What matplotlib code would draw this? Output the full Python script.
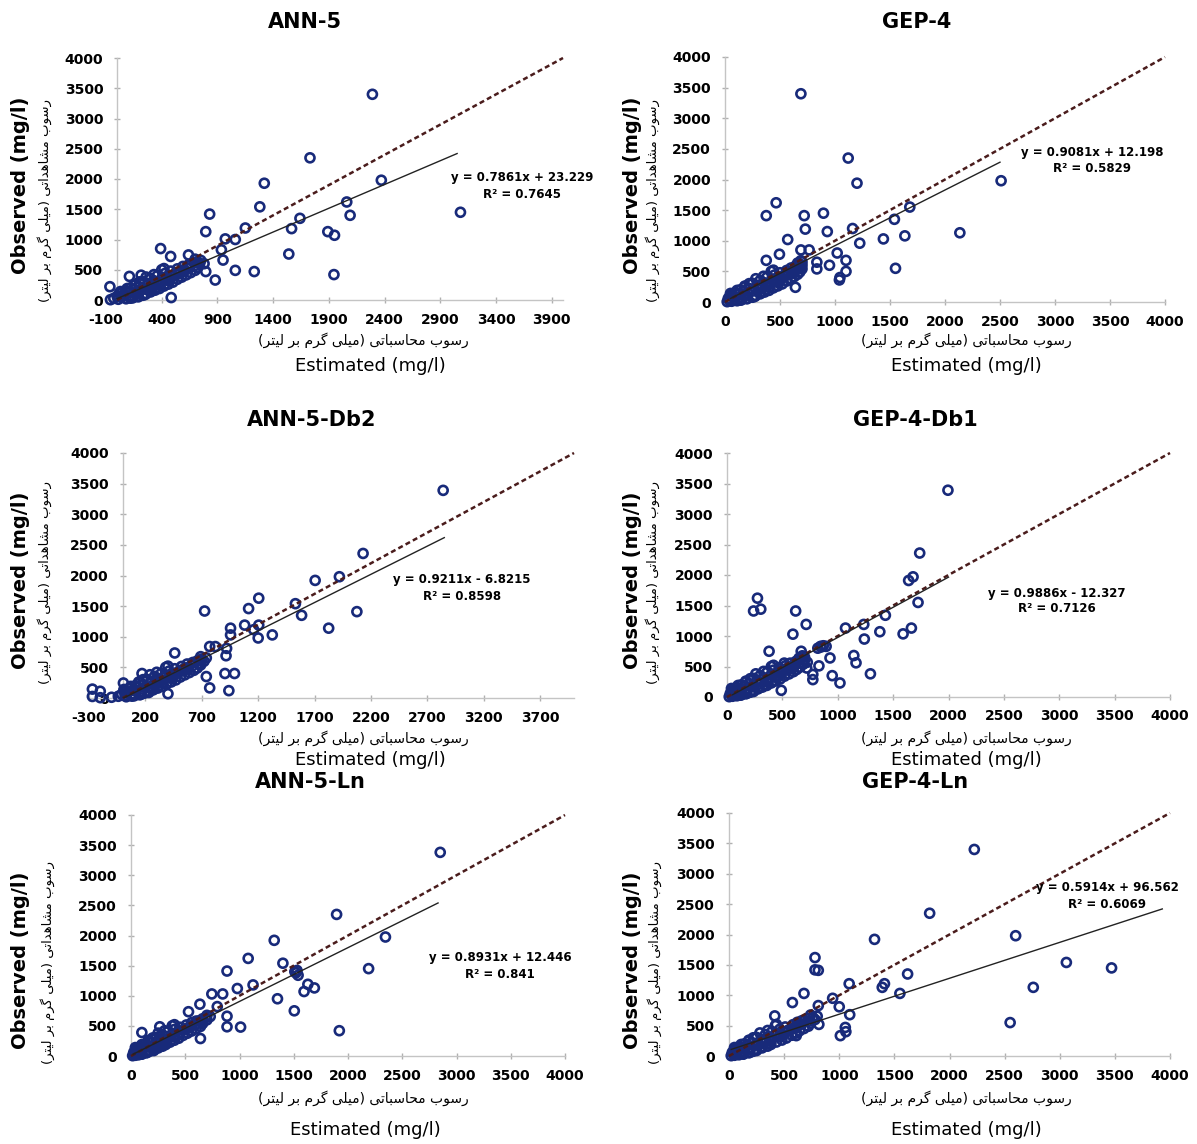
import matplotlib
matplotlib.use("Agg")
import matplotlib.pyplot as plt

plt.rcParams['axes.unicode_minus'] = False
plt.rcParams['font.family'] = ['DejaVu Sans']

W, H = 1197, 1144

# ---------------- data ----------------
TITLES = ["ANN-5", "GEP-4", "ANN-5-Db2", "GEP-4-Db1", "ANN-5-Ln", "GEP-4-Ln"]
SLOPES = [0.7861, 0.9081, 0.9211, 0.9886, 0.8931, 0.5914]
INTERCEPTS = [23.229, 12.198, -6.8215, -12.327, 12.446, 96.562]
EQ_TEXT = ["y = 0.7861x + 23.229", "y = 0.9081x + 12.198", "y = 0.9211x - 6.8215",
           "y = 0.9886x - 12.327", "y = 0.8931x + 12.446", "y = 0.5914x + 96.562"]
R2_TEXT = ["R² = 0.7645", "R² = 0.5829", "R² = 0.8598", "R² = 0.7126", "R² = 0.841", "R² = 0.6069"]
X_MIN = [-100, 0, -300, 0, 0, 0]
X_TICKS = [[-100, 400, 900, 1400, 1900, 2400, 2900, 3400, 3900],
           [0, 500, 1000, 1500, 2000, 2500, 3000, 3500, 4000],
           [-300, 200, 700, 1200, 1700, 2200, 2700, 3200, 3700],
           [0, 500, 1000, 1500, 2000, 2500, 3000, 3500, 4000],
           [0, 500, 1000, 1500, 2000, 2500, 3000, 3500, 4000],
           [0, 500, 1000, 1500, 2000, 2500, 3000, 3500, 4000]]
Y_TICKS = [0, 500, 1000, 1500, 2000, 2500, 3000, 3500, 4000]
TREND_X = [[0, 3050], [50, 2500], [-250, 2850], [50, 2000], [20, 2830], [20, 3930]]
LINE_1TO1 = [0, 4000]

OBS_CLUSTER = [5, 12, 20, 28, 35, 44, 52, 60, 70, 78,
               88, 96, 105, 115, 124, 133, 142, 152, 162, 171,
               180, 190, 200, 210, 220, 230, 240, 250, 262, 272,
               284, 295, 306, 318, 330, 342, 354, 366, 378, 390,
               402, 415, 428, 440, 452, 465, 478, 490, 502, 515,
               528, 540, 555, 570, 585, 600, 618, 636, 655, 675,
               60, 110, 150, 190, 240, 300, 350, 420, 470, 520,
               30, 90, 140, 200, 260, 320, 380, 440, 500, 580]

ANN5_CL_EST = [-60, 10, 80, -30, 140, 40, 190, 0, 120, 230,
               60, 170, 260, 20, 110, 300, 200, 80, 340, 150,
               250, 380, 120, 300, 200, 420, 330, 160, 460, 280,
               380, 500, 230, 330, 440, 540, 300, 410, 580, 480,
               360, 620, 520, 430, 660, 560, 480, 700, 600, 540,
               650, 720, 590, 700, 660, 740, 690, 720, 750, 700,
               180, 40, 290, 90, 380, 200, 480, 330, 600, 420,
               120, 250, 30, 350, 160, 460, 260, 560, 400, 640]
GEP4_CL_EST = [20, 60, 110, 40, 150, 90, 200, 30, 130, 250,
               70, 180, 280, 50, 120, 320, 210, 100, 360, 170,
               260, 400, 140, 310, 220, 440, 340, 180, 480, 290,
               400, 520, 250, 350, 460, 560, 320, 430, 600, 500,
               380, 630, 530, 450, 660, 570, 500, 680, 610, 560,
               650, 700, 600, 690, 640, 700, 680, 660, 700, 690,
               200, 60, 320, 110, 400, 220, 500, 350, 620, 440,
               140, 270, 50, 370, 180, 480, 280, 570, 420, 650]
DB2_CL_EST = [-200, -100, 30, -40, 100, 20, 150, -10, 80, 190,
              40, 150, 230, 10, 90, 270, 180, 60, 310, 130,
              230, 350, 110, 280, 180, 390, 300, 150, 430, 250,
              350, 470, 210, 310, 410, 510, 280, 390, 550, 460,
              340, 590, 490, 410, 630, 530, 460, 660, 580, 520,
              620, 690, 570, 680, 640, 720, 670, 700, 740, 690,
              160, 20, 260, 70, 350, 180, 450, 300, 580, 400,
              80, 230, 10, 320, 140, 430, 240, 530, 380, 620]
DB1_CL_EST = [20, 50, 90, 40, 130, 70, 170, 30, 110, 210,
              60, 160, 240, 50, 110, 280, 190, 90, 320, 150,
              230, 360, 130, 290, 200, 400, 310, 170, 440, 270,
              370, 480, 240, 330, 430, 520, 300, 400, 560, 470,
              360, 600, 500, 420, 630, 540, 470, 660, 580, 530,
              620, 690, 570, 680, 630, 700, 660, 650, 700, 680,
              180, 50, 290, 100, 370, 210, 470, 330, 590, 420,
              120, 240, 40, 340, 170, 450, 260, 540, 400, 620]
LN5_CL_EST = [15, 40, 70, 30, 100, 60, 140, 25, 100, 170,
              60, 150, 210, 50, 110, 250, 180, 90, 290, 150,
              210, 320, 130, 270, 190, 360, 290, 170, 400, 260,
              340, 440, 230, 320, 400, 480, 290, 380, 520, 450,
              340, 560, 480, 400, 600, 520, 450, 640, 560, 510,
              600, 660, 560, 650, 630, 700, 660, 690, 730, 700,
              150, 50, 250, 100, 330, 200, 430, 310, 540, 400,
              100, 210, 40, 300, 160, 400, 250, 500, 380, 600]
LN4_CL_EST = [20, 50, 90, 40, 130, 70, 180, 30, 120, 220,
              70, 170, 250, 50, 120, 300, 200, 100, 350, 160,
              250, 380, 140, 310, 210, 430, 340, 180, 480, 290,
              390, 520, 250, 360, 460, 570, 330, 440, 610, 510,
              390, 640, 540, 460, 680, 590, 510, 720, 630, 580,
              660, 740, 620, 720, 680, 780, 720, 760, 800, 740,
              190, 60, 300, 110, 380, 220, 490, 350, 610, 430,
              130, 250, 50, 360, 180, 470, 280, 570, 420, 660]

ANN5_OUT_EST = [2290, 1730, 1320, 2370, 2060, 2090, 3080, 1280, 830, 795,
                1150, 1640, 1565, 1890, 1950, 1540, 1945, 1230, 1060, 950,
                970, 1060, 935, 390, 480, 110, 215, -65, 485, 640,
                880, 795, 780]
ANN5_OUT_OBS = [3400, 2350, 1930, 1980, 1620, 1400, 1450, 1540, 1420, 1130,
                1190, 1350, 1180, 1130, 1070, 760, 420, 470, 490, 660,
                1010, 1000, 830, 850, 720, 390, 410, 220, 40, 745,
                330, 470, 600]
GEP4_OUT_EST = [690, 1120, 1200, 2510, 465, 375, 720, 895, 730, 930,
                1160, 1680, 1540, 2135, 1635, 1440, 570, 1225, 1020, 1100,
                1550, 1100, 1040, 1045, 690, 765, 950, 835, 835, 640,
                375, 495]
GEP4_OUT_OBS = [3400, 2350, 1940, 1980, 1620, 1410, 1410, 1450, 1190, 1150,
                1200, 1550, 1350, 1130, 1080, 1030, 1020, 960, 800, 680,
                550, 500, 360, 400, 850, 850, 600, 650, 540, 240,
                680, 780]
DB2_OUT_EST = [2840, 2130, 1920, 1705, 2075, 1825, 1530, 1585, 1205, 1115,
               1080, 1205, 1160, 1200, 1325, 955, 955, 725, 920, 820,
               770, 915, 905, 990, 940, 770, 740, 460, 400, -270,
               -270, -200, 5, 170]
DB2_OUT_OBS = [3390, 2360, 1980, 1920, 1410, 1140, 1540, 1350, 1630, 1460,
               1190, 1190, 1115, 980, 1030, 1140, 1030, 1420, 810, 840,
               840, 690, 400, 400, 120, 165, 350, 735, 70, 145,
               25, 110, 245, 400]
DB1_OUT_EST = [1995, 1740, 1640, 1680, 1725, 1590, 1665, 275, 240, 305,
               620, 715, 1070, 1235, 1240, 1380, 1430, 595, 930, 1145,
               1165, 1295, 950, 1020, 830, 775, 775, 725, 720, 490,
               380, 670, 845, 895, 517, 820, 850, 870]
DB1_OUT_OBS = [3390, 2360, 1910, 1970, 1550, 1035, 1130, 1620, 1410, 1440,
               1410, 1190, 1130, 1190, 950, 1070, 1340, 1030, 640, 680,
               560, 380, 350, 230, 510, 370, 285, 570, 475, 110,
               750, 750, 830, 830, 556, 800, 820, 840]
LN5_OUT_EST = [2850, 1895, 1320, 2345, 1080, 1400, 2190, 885, 1520, 1540,
               1125, 980, 1630, 1690, 1595, 1350, 1505, 1920, 745, 845,
               795, 635, 885, 885, 1010, 100, 265, 530, 640, 1510,
               1530]
LN5_OUT_OBS = [3380, 2350, 1920, 1975, 1620, 1540, 1450, 1410, 1380, 1340,
               1180, 1120, 1190, 1130, 1070, 950, 750, 420, 1030, 1030,
               820, 860, 660, 485, 480, 390, 485, 735, 290, 1400,
               1420]
LN4_OUT_EST = [2225, 1820, 1320, 2600, 3060, 3470, 2760, 2550, 1620, 1550,
               1410, 1390, 780, 780, 810, 1090, 680, 940, 1000, 1095,
               1055, 1010, 1060, 815, 810, 575, 415, 610]
LN4_OUT_OBS = [3400, 2350, 1920, 1980, 1540, 1450, 1130, 550, 1350, 1030,
               1190, 1130, 1620, 1418, 1410, 1190, 1030, 950, 810, 680,
               470, 335, 400, 520, 830, 880, 660, 335]

EST = [ANN5_CL_EST + ANN5_OUT_EST, GEP4_CL_EST + GEP4_OUT_EST, DB2_CL_EST + DB2_OUT_EST,
       DB1_CL_EST + DB1_OUT_EST, LN5_CL_EST + LN5_OUT_EST, LN4_CL_EST + LN4_OUT_EST]
OBS = [OBS_CLUSTER + ANN5_OUT_OBS, OBS_CLUSTER + GEP4_OUT_OBS, OBS_CLUSTER + DB2_OUT_OBS,
       OBS_CLUSTER + DB1_OUT_OBS, OBS_CLUSTER + LN5_OUT_OBS, OBS_CLUSTER + LN4_OUT_OBS]

X_LABEL_FA = "رسوب محاسباتی (میلی گرم بر لیتر)"
Y_LABEL_FA = "رسوب مشاهداتی (میلی گرم بر لیتر)"
X_LABEL_EN = "Estimated (mg/l)"
Y_LABEL_EN = "Observed (mg/l)"

# ------------- Persian shaping (presentation forms, visual order) -------------
FORMS = {
    '\u0627': ('\uFE8D', '\uFE8E', None, None),
    '\u0628': ('\uFE8F', '\uFE90', '\uFE91', '\uFE92'),
    '\u062A': ('\uFE95', '\uFE96', '\uFE97', '\uFE98'),
    '\u062D': ('\uFEA1', '\uFEA2', '\uFEA3', '\uFEA4'),
    '\u062F': ('\uFEA9', '\uFEAA', None, None),
    '\u0631': ('\uFEAD', '\uFEAE', None, None),
    '\u0633': ('\uFEB1', '\uFEB2', '\uFEB3', '\uFEB4'),
    '\u0634': ('\uFEB5', '\uFEB6', '\uFEB7', '\uFEB8'),
    '\u0644': ('\uFEDD', '\uFEDE', '\uFEDF', '\uFEE0'),
    '\u0645': ('\uFEE1', '\uFEE2', '\uFEE3', '\uFEE4'),
    '\u0647': ('\uFEE9', '\uFEEA', '\uFEEB', '\uFEEC'),
    '\u0648': ('\uFEED', '\uFEEE', None, None),
    '\u06CC': ('\uFBFC', '\uFBFD', '\uFBFE', '\uFBFF'),
    '\u06AF': ('\uFB92', '\uFB93', '\uFB94', '\uFB95'),
}


def shape_fa(text):
    out = []
    n = len(text)
    for i, ch in enumerate(text):
        f = FORMS.get(ch)
        if f is None:
            out.append(ch)
            continue
        prev = text[i - 1] if i > 0 else None
        nxt = text[i + 1] if i < n - 1 else None
        jp = prev in FORMS and FORMS[prev][2] is not None
        jn = f[2] is not None and nxt in FORMS
        if jp and jn:
            out.append(f[3])
        elif jp:
            out.append(f[1])
        elif jn:
            out.append(f[2])
        else:
            out.append(f[0])
    vis = ''.join(reversed(out))
    return vis.translate(str.maketrans('()', ')('))


# ---------------- layout (pixels) ----------------
AX_PX = [(106, 563, 58, 300), (725, 1165, 57, 302),
         (89, 574, 453, 698), (727, 1170, 453, 697),
         (131, 565, 815, 1056), (729, 1170, 813, 1056)]
TITLE_POS = [(305, 22), (917, 22), (312, 420), (915, 420), (310, 782), (915, 782)]
EQ_POS = [(522, 178), (1092, 152), (462, 580), (1057, 593), (500, 958), (1107, 888)]
XFA_POS = [(363, 340), (966, 340), (363, 738), (966, 738), (363, 1098), (966, 1098)]
XEN_POS = [(370, 366), (966, 366), (370, 760), (966, 760), (365, 1130), (966, 1130)]
YEN_POS = [(21, 185), (633, 185), (21, 580), (633, 580), (21, 960), (633, 960)]
YFA_POS = [(45, 200), (653, 200), (45, 583), (653, 583), (48, 962), (655, 962)]

fig = plt.figure(figsize=(W / 100, H / 100), dpi=100)
fig.patch.set_facecolor('white')


def fx(x):
    return x / W


def fy(y):
    return 1 - y / H


for i in range(6):
    l, r, t, b = AX_PX[i]
    ax = fig.add_axes([fx(l), fy(b), (r - l) / W, (b - t) / H])
    ax.set_xlim(X_MIN[i], 4000)
    ax.set_ylim(0, 4000)
    ax.patch.set_alpha(0)
    for s in ['top', 'right']:
        ax.spines[s].set_visible(False)
    ax.spines['left'].set_position(('data', 0))
    for s in ['left', 'bottom']:
        ax.spines[s].set_color('#c4c4c4')
        ax.spines[s].set_linewidth(1.0)
    ax.set_xticks(X_TICKS[i])
    ax.set_yticks(Y_TICKS)
    ax.set_xticklabels([str(v) for v in X_TICKS[i]])
    ax.set_yticklabels([str(v) for v in Y_TICKS])
    ax.tick_params(axis='both', direction='inout', length=4, width=1, color='#b0b0b0',
                   labelsize=10, labelcolor='black')
    ax.tick_params(axis='x', pad=7)
    ax.tick_params(axis='y', pad=8)
    for lab in ax.get_xticklabels() + ax.get_yticklabels():
        lab.set_fontweight('bold')

    # points
    ax.scatter(EST[i], OBS[i], s=42, facecolors='none', edgecolors='#182a7a',
               linewidths=1.9, clip_on=False, zorder=3)
    # 1:1 line
    ax.plot(LINE_1TO1, LINE_1TO1, color='#4a1c1c', lw=1.8, ls=(0, (2.0, 1.3)),
            zorder=4, clip_on=False)
    # trend line
    tx = TREND_X[i]
    ty = [SLOPES[i] * v + INTERCEPTS[i] for v in tx]
    ax.plot(tx, ty, color='#222222', lw=1.0, zorder=5)

    fig.text(fx(TITLE_POS[i][0]), fy(TITLE_POS[i][1]), TITLES[i], ha='center', va='center',
             fontsize=15, fontweight='bold')
    fig.text(fx(EQ_POS[i][0]), fy(EQ_POS[i][1]), EQ_TEXT[i], ha='center', va='center',
             fontsize=8.5, fontweight='bold')
    fig.text(fx(EQ_POS[i][0]), fy(EQ_POS[i][1] + 16), R2_TEXT[i], ha='center', va='center',
             fontsize=8.5, fontweight='bold')
    fig.text(fx(XFA_POS[i][0]), fy(XFA_POS[i][1]), shape_fa(X_LABEL_FA), ha='center',
             va='center', fontsize=10)
    fig.text(fx(XEN_POS[i][0]), fy(XEN_POS[i][1]), X_LABEL_EN, ha='center', va='center',
             fontsize=13)
    fig.text(fx(YEN_POS[i][0]), fy(YEN_POS[i][1]), Y_LABEL_EN, ha='center', va='center',
             fontsize=14, fontweight='bold', rotation=90)
    fig.text(fx(YFA_POS[i][0]), fy(YFA_POS[i][1]), shape_fa(Y_LABEL_FA), ha='center',
             va='center', fontsize=9.5, rotation=90)

fig.savefig('out.png', dpi=100, facecolor='white')
